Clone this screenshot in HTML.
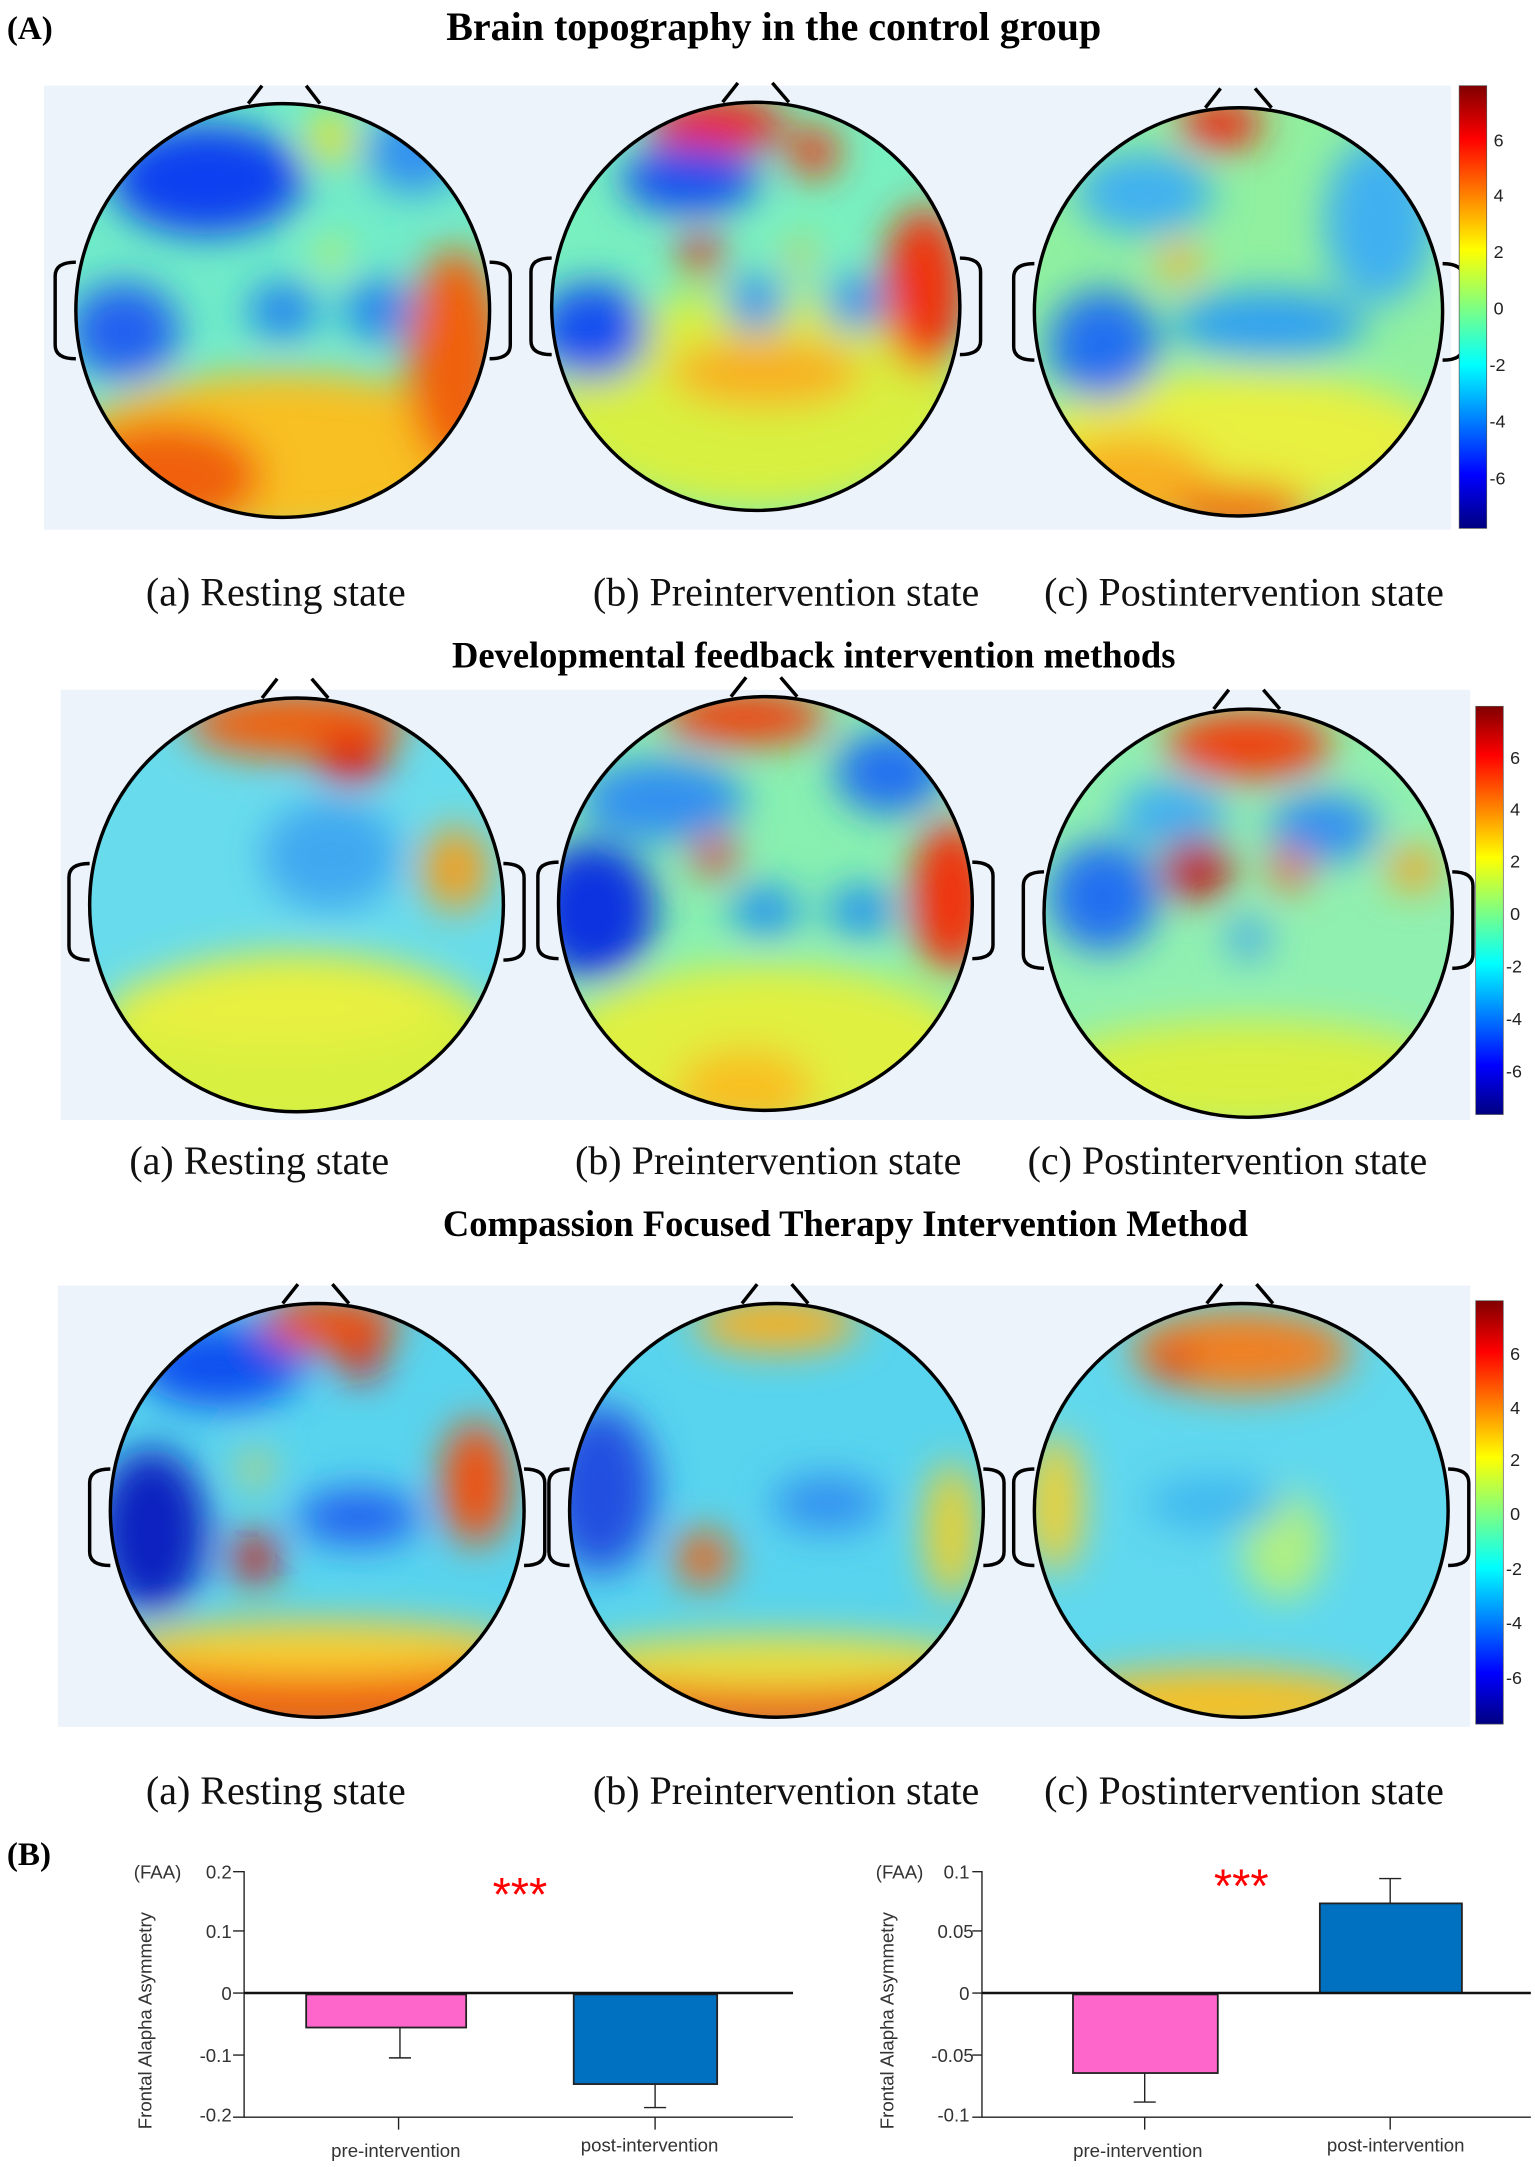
<!DOCTYPE html>
<html><head><meta charset="utf-8"><style>
html,body{margin:0;padding:0;background:#fff;}
svg{display:block;}
.t{font-family:"Liberation Serif",serif;}
.s{font-family:"Liberation Sans",sans-serif;}
</style></head><body>
<svg width="1535" height="2167" viewBox="0 0 1113 1571" xmlns="http://www.w3.org/2000/svg">
<defs>
<filter id="bl" x="-50%" y="-50%" width="200%" height="200%"><feGaussianBlur stdDeviation="14"/></filter>
<linearGradient id="cb" x1="0" y1="0" x2="0" y2="1">
<stop offset="0" stop-color="#800000"/><stop offset="0.12" stop-color="#ff0000"/><stop offset="0.37" stop-color="#ffff00"/><stop offset="0.5" stop-color="#80ff80"/><stop offset="0.63" stop-color="#00ffff"/><stop offset="0.88" stop-color="#0000ff"/><stop offset="1" stop-color="#000080"/></linearGradient>
<clipPath id="c1"><circle cx="205" cy="225" r="150"/></clipPath>
<clipPath id="c2"><circle cx="548" cy="222" r="148"/></clipPath>
<clipPath id="c3"><circle cx="898" cy="226" r="148"/></clipPath>
<clipPath id="c4"><circle cx="215" cy="656" r="150"/></clipPath>
<clipPath id="c5"><circle cx="555" cy="655" r="150"/></clipPath>
<clipPath id="c6"><circle cx="905" cy="662" r="148"/></clipPath>
<clipPath id="c7"><circle cx="230" cy="1095" r="150"/></clipPath>
<clipPath id="c8"><circle cx="563" cy="1095" r="150"/></clipPath>
<clipPath id="c9"><circle cx="900" cy="1095" r="150"/></clipPath>
</defs>

<text x="5" y="28" class="t" font-size="24" font-weight="bold">(A)</text>
<text x="561" y="29" class="t" font-size="29" font-weight="bold" text-anchor="middle">Brain topography in the control group</text>

<rect x="32" y="62" width="1020" height="322" fill="#edf3fb"/>
<rect x="44" y="500" width="1022" height="312" fill="#edf3fb"/>
<rect x="42" y="932" width="1024" height="320" fill="#edf3fb"/>

<!-- Head 1 -->
<g clip-path="url(#c1)"><rect x="50" y="70" width="310" height="310" fill="#70ecc8"/>
<g filter="url(#bl)">
<ellipse cx="205" cy="330" rx="160" ry="60" fill="#f8c020"/>
<ellipse cx="120" cy="345" rx="70" ry="40" fill="#f06010"/>
<ellipse cx="330" cy="260" rx="35" ry="80" fill="#f06010"/>
<ellipse cx="150" cy="130" rx="70" ry="40" fill="#1040f0"/>
<ellipse cx="90" cy="240" rx="40" ry="35" fill="#2060f0"/>
<ellipse cx="205" cy="225" rx="25" ry="20" fill="#2080f0"/>
<ellipse cx="275" cy="225" rx="25" ry="22" fill="#2080f0"/>
<ellipse cx="240" cy="100" rx="18" ry="18" fill="#e8e020"/>
<ellipse cx="300" cy="110" rx="35" ry="30" fill="#3090f0"/>
<ellipse cx="240" cy="185" rx="10" ry="10" fill="#e8f020"/>
</g></g>
<!-- Head 2 -->
<g clip-path="url(#c2)"><rect x="395" y="70" width="310" height="310" fill="#78f0c0"/>
<g filter="url(#bl)">
<ellipse cx="548" cy="290" rx="150" ry="80" fill="#d8f040"/>
<ellipse cx="555" cy="270" rx="70" ry="25" fill="#f8b020"/>
<ellipse cx="670" cy="210" rx="30" ry="60" fill="#f03010"/>
<ellipse cx="520" cy="90" rx="50" ry="20" fill="#f02010"/>
<ellipse cx="590" cy="110" rx="18" ry="18" fill="#f03010"/>
<ellipse cx="500" cy="130" rx="50" ry="25" fill="#1850f0"/>
<ellipse cx="430" cy="240" rx="40" ry="35" fill="#1850f0"/>
<ellipse cx="548" cy="220" rx="22" ry="20" fill="#2090f0"/>
<ellipse cx="620" cy="220" rx="22" ry="20" fill="#2090f0"/>
<ellipse cx="508" cy="185" rx="15" ry="15" fill="#e02010"/>
<ellipse cx="580" cy="185" rx="10" ry="10" fill="#f0c020"/>
</g></g>
<!-- Head 3 -->
<g clip-path="url(#c3)"><rect x="745" y="70" width="310" height="310" fill="#90f0a0"/>
<g filter="url(#bl)">
<ellipse cx="898" cy="320" rx="150" ry="50" fill="#e8f040"/>
<ellipse cx="820" cy="350" rx="60" ry="35" fill="#f8b020"/>
<ellipse cx="900" cy="370" rx="50" ry="20" fill="#f07010"/>
<ellipse cx="885" cy="90" rx="30" ry="18" fill="#f02010"/>
<ellipse cx="800" cy="250" rx="40" ry="40" fill="#2070f0"/>
<ellipse cx="920" cy="235" rx="70" ry="25" fill="#30a0f0"/>
<ellipse cx="830" cy="140" rx="50" ry="30" fill="#40b0f0"/>
<ellipse cx="1000" cy="160" rx="40" ry="60" fill="#40b0f0"/>
<ellipse cx="855" cy="190" rx="15" ry="15" fill="#f8b020"/>
</g></g>
<!-- Head 4 -->
<g clip-path="url(#c4)"><rect x="60" y="500" width="310" height="310" fill="#68dcec"/>
<g filter="url(#bl)">
<ellipse cx="215" cy="760" rx="150" ry="70" fill="#d8f040"/>
<ellipse cx="200" cy="730" rx="120" ry="30" fill="#e8f040"/>
<ellipse cx="330" cy="630" rx="25" ry="30" fill="#f0a020"/>
<ellipse cx="215" cy="525" rx="80" ry="25" fill="#f06010"/>
<ellipse cx="255" cy="550" rx="25" ry="18" fill="#e01010"/>
<ellipse cx="240" cy="620" rx="50" ry="40" fill="#40a8f0"/>
</g></g>
<!-- Head 5 -->
<g clip-path="url(#c5)"><rect x="400" y="500" width="310" height="310" fill="#88f0b0"/>
<g filter="url(#bl)">
<ellipse cx="555" cy="760" rx="150" ry="60" fill="#e0f040"/>
<ellipse cx="540" cy="790" rx="50" ry="30" fill="#f8c020"/>
<ellipse cx="690" cy="650" rx="30" ry="55" fill="#f03010"/>
<ellipse cx="540" cy="520" rx="60" ry="20" fill="#f04010"/>
<ellipse cx="430" cy="660" rx="45" ry="50" fill="#1030e0"/>
<ellipse cx="480" cy="580" rx="60" ry="30" fill="#3090f0"/>
<ellipse cx="645" cy="560" rx="40" ry="30" fill="#2070f0"/>
<ellipse cx="555" cy="660" rx="25" ry="18" fill="#2090f0"/>
<ellipse cx="625" cy="660" rx="25" ry="18" fill="#2090f0"/>
<ellipse cx="518" cy="620" rx="15" ry="15" fill="#e03010"/>
</g></g>
<!-- Head 6 -->
<g clip-path="url(#c6)"><rect x="750" y="510" width="310" height="310" fill="#90f0b0"/>
<g filter="url(#bl)">
<ellipse cx="905" cy="780" rx="150" ry="40" fill="#d8f040"/>
<ellipse cx="800" cy="650" rx="40" ry="40" fill="#2070f0"/>
<ellipse cx="905" cy="540" rx="60" ry="25" fill="#f04010"/>
<ellipse cx="960" cy="600" rx="40" ry="25" fill="#3090f0"/>
<ellipse cx="850" cy="590" rx="40" ry="25" fill="#40b0f0"/>
<ellipse cx="868" cy="630" rx="25" ry="22" fill="#c01010"/>
<ellipse cx="935" cy="630" rx="15" ry="15" fill="#f06010"/>
<ellipse cx="1025" cy="630" rx="20" ry="15" fill="#f8a020"/>
<ellipse cx="905" cy="680" rx="15" ry="15" fill="#40a0f0"/>
</g></g>
<!-- Head 7 -->
<g clip-path="url(#c7)"><rect x="75" y="940" width="310" height="310" fill="#58d4ee"/>
<g filter="url(#bl)">
<ellipse cx="230" cy="1230" rx="160" ry="30" fill="#f06010"/>
<ellipse cx="230" cy="1195" rx="150" ry="20" fill="#f8d030"/>
<ellipse cx="110" cy="1110" rx="40" ry="60" fill="#1020c0"/>
<ellipse cx="160" cy="990" rx="60" ry="30" fill="#1050f0"/>
<ellipse cx="240" cy="960" rx="50" ry="20" fill="#f05010"/>
<ellipse cx="262" cy="985" rx="15" ry="15" fill="#e01010"/>
<ellipse cx="345" cy="1075" rx="25" ry="45" fill="#f05010"/>
<ellipse cx="260" cy="1100" rx="45" ry="20" fill="#2060f0"/>
<ellipse cx="185" cy="1130" rx="15" ry="20" fill="#d01010"/>
<ellipse cx="185" cy="1065" rx="10" ry="12" fill="#f0d030"/>
</g></g>
<!-- Head 8 -->
<g clip-path="url(#c8)"><rect x="410" y="940" width="310" height="310" fill="#58d4ee"/>
<g filter="url(#bl)">
<ellipse cx="563" cy="1235" rx="160" ry="25" fill="#f06010"/>
<ellipse cx="563" cy="1205" rx="150" ry="20" fill="#e8e040"/>
<ellipse cx="435" cy="1080" rx="40" ry="60" fill="#2050e0"/>
<ellipse cx="563" cy="960" rx="60" ry="20" fill="#f8b020"/>
<ellipse cx="690" cy="1110" rx="20" ry="50" fill="#e8d030"/>
<ellipse cx="510" cy="1130" rx="20" ry="20" fill="#f06010"/>
<ellipse cx="600" cy="1090" rx="40" ry="20" fill="#3090f0"/>
</g></g>
<!-- Head 9 -->
<g clip-path="url(#c9)"><rect x="745" y="940" width="310" height="310" fill="#60d8ee"/>
<g filter="url(#bl)">
<ellipse cx="880" cy="1235" rx="120" ry="25" fill="#f8c020"/>
<ellipse cx="900" cy="980" rx="80" ry="30" fill="#f08020"/>
<ellipse cx="850" cy="988" rx="15" ry="12" fill="#e02010"/>
<ellipse cx="765" cy="1090" rx="20" ry="50" fill="#f0d030"/>
<ellipse cx="930" cy="1120" rx="30" ry="40" fill="#b0f080"/>
<ellipse cx="880" cy="1090" rx="50" ry="20" fill="#40b8f0"/>
</g></g>

<!-- head outlines, noses, ears -->
<g fill="none" stroke="#000" stroke-width="2.5">
<circle cx="205" cy="225" r="150"/><path d="M180,75 L190,62 M222,62 L232,75"/>
<path d="M55,190 q-15,0 -15,10 v50 q0,10 15,10"/><path d="M355,190 q15,0 15,10 v50 q0,10 -15,10"/>
<circle cx="548" cy="222" r="148"/><path d="M524,74 L535,60 M560,60 L572,74"/>
<path d="M400,187 q-15,0 -15,10 v50 q0,10 15,10"/><path d="M696,187 q15,0 15,10 v50 q0,10 -15,10"/>
<circle cx="898" cy="226" r="148"/><path d="M874,78 L885,64 M910,64 L922,78"/>
<path d="M750,191 q-15,0 -15,10 v50 q0,10 15,10"/><path d="M1046,191 q15,0 15,10 v50 q0,10 -15,10"/>
<circle cx="215" cy="656" r="150"/><path d="M190,506 L201,492 M226,492 L238,506"/>
<path d="M65,626 q-15,0 -15,10 v50 q0,10 15,10"/><path d="M365,626 q15,0 15,10 v50 q0,10 -15,10"/>
<circle cx="555" cy="655" r="150"/><path d="M530,505 L541,491 M566,491 L578,505"/>
<path d="M405,625 q-15,0 -15,10 v50 q0,10 15,10"/><path d="M705,625 q15,0 15,10 v50 q0,10 -15,10"/>
<circle cx="905" cy="662" r="148"/><path d="M880,514 L891,500 M916,500 L928,514"/>
<path d="M757,632 q-15,0 -15,10 v50 q0,10 15,10"/><path d="M1053,632 q15,0 15,10 v50 q0,10 -15,10"/>
<circle cx="230" cy="1095" r="150"/><path d="M205,945 L216,931 M241,931 L253,945"/>
<path d="M80,1065 q-15,0 -15,10 v50 q0,10 15,10"/><path d="M380,1065 q15,0 15,10 v50 q0,10 -15,10"/>
<circle cx="563" cy="1095" r="150"/><path d="M538,945 L549,931 M574,931 L586,945"/>
<path d="M413,1065 q-15,0 -15,10 v50 q0,10 15,10"/><path d="M713,1065 q15,0 15,10 v50 q0,10 -15,10"/>
<circle cx="900" cy="1095" r="150"/><path d="M875,945 L886,931 M911,931 L923,945"/>
<path d="M750,1065 q-15,0 -15,10 v50 q0,10 15,10"/><path d="M1050,1065 q15,0 15,10 v50 q0,10 -15,10"/>
</g>

<!-- colorbars -->
<g class="s" font-size="13" fill="#222">
<rect x="1058" y="62" width="20" height="321" fill="url(#cb)" stroke="#555" stroke-width="0.5"/>
<text x="1083" y="106">6</text><text x="1083" y="146">4</text><text x="1083" y="187">2</text><text x="1083" y="228">0</text><text x="1080" y="269">-2</text><text x="1080" y="310">-4</text><text x="1080" y="351">-6</text>
<rect x="1070" y="512" width="20" height="296" fill="url(#cb)" stroke="#555" stroke-width="0.5"/>
<text x="1095" y="554">6</text><text x="1095" y="591">4</text><text x="1095" y="629">2</text><text x="1095" y="667">0</text><text x="1092" y="705">-2</text><text x="1092" y="743">-4</text><text x="1092" y="781">-6</text>
<rect x="1070" y="943" width="20" height="307" fill="url(#cb)" stroke="#555" stroke-width="0.5"/>
<text x="1095" y="986">6</text><text x="1095" y="1025">4</text><text x="1095" y="1063">2</text><text x="1095" y="1102">0</text><text x="1092" y="1142">-2</text><text x="1092" y="1181">-4</text><text x="1092" y="1221">-6</text>
</g>

<!-- labels -->
<g class="t" font-size="29" fill="#111" text-anchor="middle">
<text x="200" y="439">(a) Resting state</text><text x="570" y="439">(b) Preintervention state</text><text x="902" y="439">(c) Postintervention state</text>
<text x="188" y="851">(a) Resting state</text><text x="557" y="851">(b) Preintervention state</text><text x="890" y="851">(c) Postintervention state</text>
<text x="200" y="1308">(a) Resting state</text><text x="570" y="1308">(b) Preintervention state</text><text x="902" y="1308">(c) Postintervention state</text>
</g>
<text x="590" y="484" class="t" font-size="26.5" font-weight="bold" text-anchor="middle">Developmental feedback intervention methods</text>
<text x="613" y="896" class="t" font-size="26.5" font-weight="bold" text-anchor="middle">Compassion Focused Therapy Intervention Method</text>

<!-- (B) -->
<text x="5" y="1352" class="t" font-size="24" font-weight="bold">(B)</text>
<g class="s" fill="#333" font-size="13.5">
<text x="97" y="1362">(FAA)</text>
<text x="168" y="1362" text-anchor="end">0.2</text><text x="168" y="1405" text-anchor="end">0.1</text><text x="168" y="1450" text-anchor="end">0</text><text x="168" y="1495" text-anchor="end">-0.1</text><text x="168" y="1538" text-anchor="end">-0.2</text>
<text transform="translate(110,1465) rotate(-90)" text-anchor="middle">Frontal Alapha Asymmetry</text>
<text x="287" y="1564" text-anchor="middle">pre-intervention</text><text x="471" y="1560" text-anchor="middle">post-intervention</text>
<text x="635" y="1362">(FAA)</text>
<text x="703" y="1362" text-anchor="end">0.1</text><text x="706" y="1405" text-anchor="end">0.05</text><text x="703" y="1450" text-anchor="end">0</text><text x="706" y="1495" text-anchor="end">-0.05</text><text x="703" y="1538" text-anchor="end">-0.1</text>
<text transform="translate(648,1465) rotate(-90)" text-anchor="middle">Frontal Alapha Asymmetry</text>
<text x="825" y="1564" text-anchor="middle">pre-intervention</text><text x="1012" y="1560" text-anchor="middle">post-intervention</text>
</g>
<g stroke="#222" fill="none" stroke-width="1">
<path d="M169,1357h8v178h-8 M169,1400h8 M169,1445h8 M169,1490h8"/>
<path d="M177,1535h398 M289,1535v9 M475,1535v9"/>
<path d="M290,1470v22 M282,1492h16 M475,1511v17 M467,1528h16"/>
<path d="M705,1357h7v178h-7 M705,1400h7 M705,1445h7 M705,1490h7"/>
<path d="M712,1535h398 M830,1535v9 M1008,1535v9"/>
<path d="M830,1503v21 M822,1524h16 M1008,1380v-18 M1000,1362h16"/>
</g>
<rect x="222" y="1446" width="116" height="24" fill="#ff66cc" stroke="#222" stroke-width="1.3"/>
<rect x="416" y="1446" width="104" height="65" fill="#0070c0" stroke="#222" stroke-width="1.3"/>
<rect x="778" y="1446" width="105" height="57" fill="#ff66cc" stroke="#222" stroke-width="1.3"/>
<rect x="957" y="1380" width="103" height="65" fill="#0070c0" stroke="#222" stroke-width="1.3"/>
<path d="M177,1445h398 M712,1445h398" stroke="#111" stroke-width="1.8"/>
<text x="377" y="1385" class="s" font-size="34" fill="#ff0000" text-anchor="middle">***</text>
<text x="900" y="1379" class="s" font-size="34" fill="#ff0000" text-anchor="middle">***</text>
</svg>
</body></html>
